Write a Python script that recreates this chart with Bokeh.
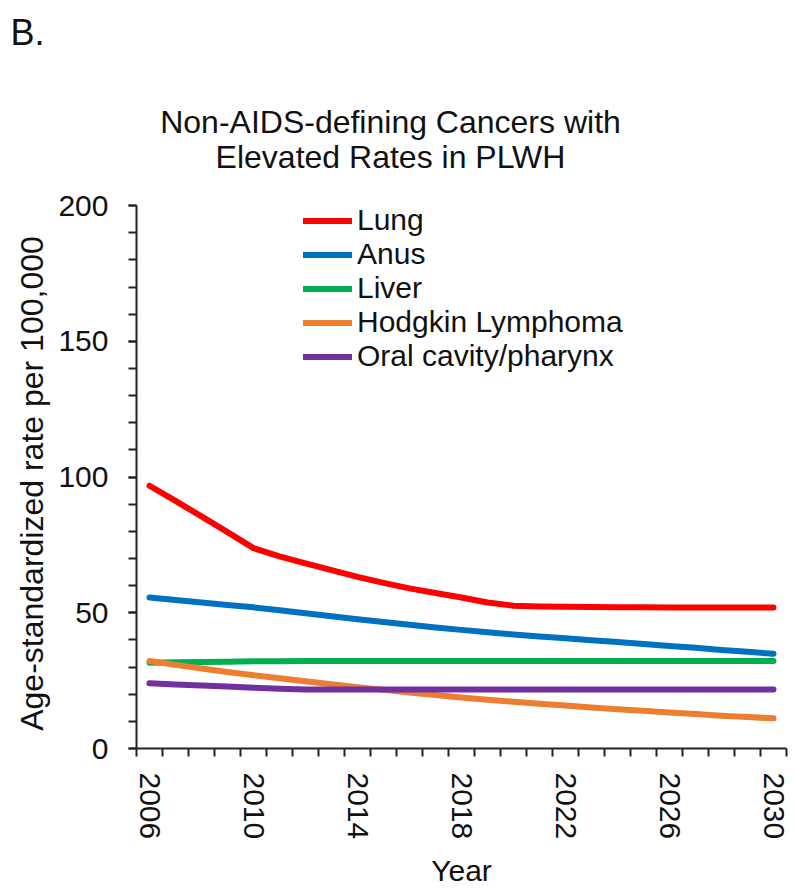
from bokeh.plotting import figure
from bokeh.models import FixedTicker, Legend, LegendItem, Range1d, Label, Title
from bokeh.embed import file_html
from bokeh.resources import INLINE

years = list(range(2006, 2031))
lung = [96.8, 91.2, 85.5, 79.7, 73.8, 70.8, 68.2, 65.7, 63.2, 61.0, 59.0, 57.3, 55.6,
        53.8, 52.6, 52.3, 52.2, 52.1, 52.0, 52.0, 51.9, 51.9, 51.9, 51.9, 51.9]
anus = [55.6, 54.7, 53.8, 52.9, 52.0, 50.9, 49.8, 48.7, 47.6, 46.6, 45.6, 44.6, 43.7,
        42.8, 42.0, 41.3, 40.6, 39.9, 39.2, 38.5, 37.8, 37.1, 36.3, 35.6, 34.9]
liver = [31.6, 31.8, 31.9, 32.0, 32.1, 32.15, 32.2, 32.2, 32.2, 32.2, 32.2, 32.2, 32.2,
         32.2, 32.2, 32.2, 32.2, 32.2, 32.2, 32.2, 32.2, 32.2, 32.2, 32.2, 32.2]
hodgkin = [32.2, 30.8, 29.5, 28.2, 27.0, 25.9, 24.8, 23.7, 22.6, 21.6, 20.6, 19.7, 18.8,
           18.0, 17.2, 16.5, 15.8, 15.1, 14.5, 13.9, 13.3, 12.7, 12.1, 11.6, 11.1]
oral = [24.0, 23.6, 23.2, 22.8, 22.4, 22.0, 21.7, 21.7, 21.7, 21.7, 21.7, 21.7, 21.7,
        21.7, 21.7, 21.7, 21.7, 21.7, 21.7, 21.7, 21.7, 21.7, 21.7, 21.7, 21.7]

series_names = ["Lung", "Anus", "Liver", "Hodgkin Lymphoma", "Oral cavity/pharynx"]
series_values = [lung, anus, liver, hodgkin, oral]
series_colors = ["#FF0000", "#0070C0", "#00B050", "#ED7D31", "#7030A0"]

x_labels = [2006, 2010, 2014, 2018, 2022, 2026, 2030]
y_major = [0, 50, 100, 150, 200]
y_minor = list(range(0, 201, 10))
y_top_shown = 200

FONT = "Liberation Sans"
TXT = "#111111"

# frame runs from just under the panel letter; the axis itself is bounded to 0..200
TOP = 58
FRAME_BOTTOM = 757
PX_PER_UNIT = 550 / y_top_shown
p = figure(width=794, height=890, output_backend="svg", toolbar_location=None,
           x_range=Range1d(2005.5, 2030.5),
           y_range=Range1d(0, (FRAME_BOTTOM - TOP) / PX_PER_UNIT),
           min_border_left=136, min_border_right=8, min_border_top=TOP,
           min_border_bottom=133)
p.title.text = ""
p.outline_line_color = None
p.grid.visible = False
p.background_fill_color = "white"
p.border_fill_color = "white"

renderers = []
for name, vals, col in zip(series_names, series_values, series_colors):
    r = p.line(years, vals, line_color=col, line_width=6, line_cap="round", line_join="round")
    renderers.append((name, r))

xa = p.xaxis[0]
xa.ticker = FixedTicker(ticks=x_labels, minor_ticks=[y + 0.5 for y in range(2005, 2031)])
xa.major_tick_out = 0
xa.major_tick_in = 0
xa.minor_tick_out = 8
xa.minor_tick_in = 0
xa.minor_tick_line_width = 2
xa.minor_tick_line_color = "#222222"
xa.axis_line_width = 2
xa.axis_line_color = "#222222"
xa.major_label_orientation = "vertical"
xa.major_label_standoff = 16
xa.major_label_text_font = FONT
xa.major_label_text_font_size = "30px"
xa.major_label_text_color = TXT
xa.axis_label = "Year"
xa.axis_label_text_font = FONT
xa.axis_label_text_font_size = "30px"
xa.axis_label_text_font_style = "normal"
xa.axis_label_text_color = TXT
xa.axis_label_standoff = 12

ya = p.yaxis[0]
ya.bounds = (0, y_top_shown)
ya.ticker = FixedTicker(ticks=y_major, minor_ticks=y_minor)
ya.major_tick_out = 8
ya.major_tick_in = 0
ya.minor_tick_out = 8
ya.minor_tick_in = 0
ya.major_tick_line_width = 2
ya.minor_tick_line_width = 2
ya.major_tick_line_color = "#222222"
ya.minor_tick_line_color = "#222222"
ya.axis_line_width = 2
ya.axis_line_color = "#222222"
ya.major_label_standoff = 20
ya.major_label_text_font = FONT
ya.major_label_text_font_size = "30px"
ya.major_label_text_color = TXT
# trailing no-break spaces keep the label centred on the 0-200 part of the axis
ya.axis_label = "Age-standardized rate per 100,000" + "\u00a0" * 18
ya.axis_label_text_font = FONT
ya.axis_label_text_font_size = "32px"
ya.axis_label_text_font_style = "normal"
ya.axis_label_text_color = TXT
ya.axis_label_standoff = 5

legend = Legend(items=[LegendItem(label=n, renderers=[r]) for n, r in renderers],
                location=(167, 375), padding=0, margin=0, spacing=0,
                glyph_width=49, glyph_height=33, label_height=33, label_standoff=5,
                label_text_font=FONT, label_text_font_size="30px", label_text_color=TXT,
                border_line_color=None, background_fill_alpha=0)
p.add_layout(legend, "center")

# chart title lines (screen units, from the frame's bottom-left)
p.add_layout(Label(x=254, y=FRAME_BOTTOM - 130, x_units="screen", y_units="screen",
                   text="Non-AIDS-defining Cancers with", text_align="center",
                   text_baseline="alphabetic", text_font=FONT, text_font_size="32px",
                   text_color=TXT))
p.add_layout(Label(x=254, y=FRAME_BOTTOM - 165, x_units="screen", y_units="screen",
                   text="Elevated Rates in PLWH", text_align="center",
                   text_baseline="alphabetic", text_font=FONT, text_font_size="32px",
                   text_color=TXT))

# panel letter
p.add_layout(Title(text="B.", align="left", offset=-126, standoff=12,
                   text_font=FONT, text_font_size="36px", text_font_style="normal",
                   text_color=TXT), "above")

open("out.html", "w").write(file_html(p, INLINE))
